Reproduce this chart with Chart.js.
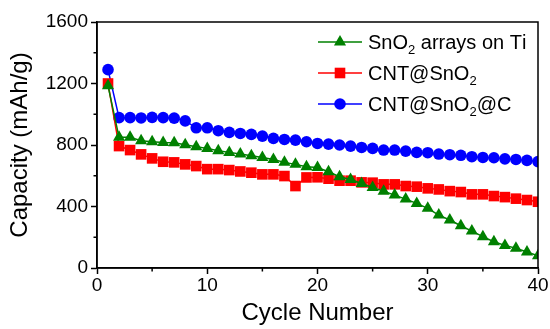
<!DOCTYPE html>
<html>
<head>
<meta charset="utf-8">
<script src="https://cdn.jsdelivr.net/npm/chart.js@4"></script>
<style>
  html, body { margin: 0; padding: 0; background: #fff; }
  #wrap { width: 550px; height: 329px; }
</style>
</head>
<body>
<div id="wrap"><canvas id="capChart" width="550" height="329"></canvas></div>
<script>
// Data
const cycles = [1,2,3,4,5,6,7,8,9,10,11,12,13,14,15,16,17,18,19,20,21,22,23,24,25,26,27,28,29,30,31,32,33,34,35,36,37,38,39,40];
const snoArrays = [1185,850,850,828,821,817,815,802,789,778,763,752,741,730,719,706,687,674,659,654,626,594,576,550,524,500,474,448,420,388,344,312,275,240,204,171,147,128,104,80];
const cntSno = [1200,793,767,739,713,691,687,674,663,643,643,637,628,620,609,609,598,533,589,590,581,568,568,557,555,544,544,533,529,518,511,500,494,479,479,468,461,451,442,431];
const cntSnoC = [1290,978,978,976,980,978,975,957,912,912,893,882,875,869,858,843,836,832,821,810,806,800,793,784,778,767,767,760,752,750,741,737,733,724,719,717,710,706,700,692];
const yTicks = [0, 400, 800, 1200, 1600];
const xTicks = [0, 10, 20, 30, 40];
// "_" marks the next character as subscript
const legendLabels = ['SnO_2 arrays on Ti', 'CNT@SnO_2', 'CNT@SnO_2@C'];

const toPts = vals => vals.map((v, i) => ({ x: cycles[i], y: v }));

// Frame, minor ticks and legend with subscripts
const extras = {
  id: 'extras',
  afterDatasetsDraw(chart) {
    const { ctx, chartArea: a, scales } = chart;
    ctx.save();
    ctx.strokeStyle = '#000';
    ctx.lineWidth = 1.5;
    ctx.strokeRect(a.left, a.top, a.right - a.left, a.bottom - a.top);

    // minor ticks between the labelled ones
    ctx.beginPath();
    for (let i = 0; i < xTicks.length - 1; i++) {
      const px = scales.x.getPixelForValue((xTicks[i] + xTicks[i + 1]) / 2);
      ctx.moveTo(px, a.bottom);
      ctx.lineTo(px, a.bottom + 3.5);
    }
    for (let i = 0; i < yTicks.length - 1; i++) {
      const py = scales.y.getPixelForValue((yTicks[i] + yTicks[i + 1]) / 2);
      ctx.moveTo(a.left, py);
      ctx.lineTo(a.left - 3.5, py);
    }
    ctx.stroke();

    // legend
    const rowY = [42, 73, 104];
    chart.data.datasets.forEach((ds, i) => {
      const y = rowY[i];
      ctx.strokeStyle = ds.borderColor;
      ctx.lineWidth = 1.5;
      ctx.beginPath();
      ctx.moveTo(318, y);
      ctx.lineTo(362, y);
      ctx.stroke();
      ctx.fillStyle = ds.backgroundColor;
      Chart.helpers.drawPoint(ctx, {
        pointStyle: ds.pointStyle, radius: ds.pointRadius, rotation: 0, borderWidth: 0
      }, 340, y);

      let x = 368;
      const label = legendLabels[i];
      ctx.fillStyle = '#000';
      ctx.textBaseline = 'alphabetic';
      ctx.textAlign = 'left';
      for (let k = 0; k < label.length; k++) {
        if (label[k] === '_') {
          k++;
          ctx.font = '13px "Liberation Sans", Arial, sans-serif';
          ctx.fillText(label[k], x, y + 12);
          x += ctx.measureText(label[k]).width;
        } else {
          ctx.font = '20px "Liberation Sans", Arial, sans-serif';
          ctx.fillText(label[k], x, y + 7);
          x += ctx.measureText(label[k]).width;
        }
      }
    });
    ctx.restore();
  }
};

new Chart(document.getElementById('capChart'), {
  type: 'line',
  data: {
    datasets: [
      {
        label: 'SnO2 arrays on Ti',
        data: toPts(snoArrays),
        borderColor: '#008000',
        backgroundColor: '#008000',
        pointStyle: 'triangle',
        pointRadius: 7,
        order: 1
      },
      {
        label: 'CNT@SnO2',
        data: toPts(cntSno),
        borderColor: '#ff0000',
        backgroundColor: '#ff0000',
        pointStyle: 'rect',
        pointRadius: 7.5,
        order: 2
      },
      {
        label: 'CNT@SnO2@C',
        data: toPts(cntSnoC),
        borderColor: '#0000ff',
        backgroundColor: '#0000ff',
        pointStyle: 'circle',
        pointRadius: 5.8,
        order: 3
      }
    ]
  },
  options: {
    responsive: false,
    animation: false,
    elements: {
      line: { borderWidth: 1.5, tension: 0 },
      point: { borderWidth: 0, hoverRadius: 6 }
    },
    layout: { padding: { top: 22, right: 12, left: 0, bottom: 0 } },
    plugins: {
      legend: { display: false },
      tooltip: { enabled: false }
    },
    scales: {
      x: {
        type: 'linear',
        min: 0,
        max: 40,
        afterBuildTicks: s => { s.ticks = xTicks.map(v => ({ value: v })); },
        afterFit: s => { s.height = 61; },
        grid: { drawOnChartArea: false, drawTicks: true, tickLength: 6, tickWidth: 1.5, tickColor: '#000' },
        border: { display: true, color: '#000', width: 1.5 },
        ticks: {
          padding: 0,
          color: '#000',
          maxRotation: 0,
          callback: v => String(v),
          font: { family: '"Liberation Sans", Arial, sans-serif', size: 19 }
        },
        title: {
          display: true,
          text: 'Cycle Number',
          color: '#000',
          padding: { top: 0, bottom: 1 },
          font: { family: '"Liberation Sans", Arial, sans-serif', size: 24 }
        }
      },
      y: {
        min: 0,
        max: 1600,
        afterBuildTicks: s => { s.ticks = yTicks.map(v => ({ value: v })); },
        afterFit: s => { s.width = 97; },
        grid: { drawOnChartArea: false, drawTicks: true, tickLength: 6, tickWidth: 1.5, tickColor: '#000' },
        border: { display: true, color: '#000', width: 1.5 },
        ticks: {
          padding: 3,
          color: '#000',
          callback: v => String(v),
          font: { family: '"Liberation Sans", Arial, sans-serif', size: 19 }
        },
        title: {
          display: true,
          text: 'Capacity (mAh/g)',
          color: '#000',
          padding: { top: 6, bottom: 0 },
          font: { family: '"Liberation Sans", Arial, sans-serif', size: 24 }
        }
      }
    }
  },
  plugins: [extras]
});
</script>
</body>
</html>
